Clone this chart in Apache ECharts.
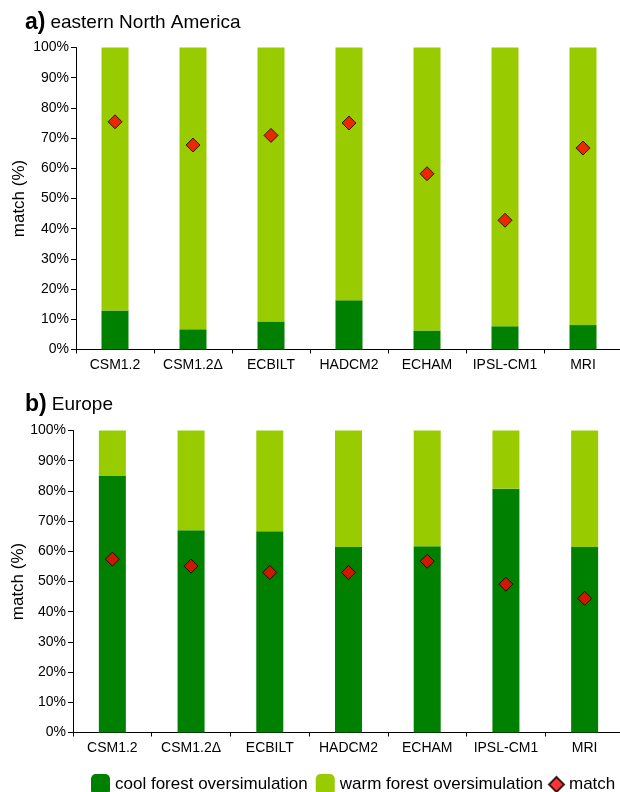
<!DOCTYPE html>
<html>
<head>
<meta charset="utf-8">
<script src="https://cdn.jsdelivr.net/npm/echarts@6/dist/echarts.min.js"></script>
<style>
  html, body { margin: 0; padding: 0; background: #fff; }
  #chart { width: 620px; height: 792px; }
</style>
</head>
<body>
<div id="chart"></div>
<script>
const categories = ['CSM1.2', 'CSM1.2\u0394', 'ECBILT', 'HADCM2', 'ECHAM', 'IPSL-CM1', 'MRI'];
const yTicks = [0, 10, 20, 30, 40, 50, 60, 70, 80, 90, 100];

// a) eastern North America
const coolNA  = [12.9, 6.7, 9.3, 16.3, 6.3, 7.7, 8.1];
const warmNA  = [87.1, 93.3, 90.7, 83.7, 93.7, 92.3, 91.9];
const matchNA = [75.4, 67.7, 70.9, 75.0, 58.2, 42.8, 66.7];

// b) Europe
const coolEU  = [84.9, 67.0, 66.6, 61.4, 61.7, 80.7, 61.4];
const warmEU  = [15.1, 33.0, 33.4, 38.6, 38.3, 19.3, 38.6];
const matchEU = [57.4, 55.1, 53.0, 53.0, 56.7, 49.1, 44.4];

const FONT = 'Liberation Sans, Arial, Helvetica, sans-serif';
const COOL = '#008000';
const WARM = '#99CC00';
const MATCH = '#FF0000';
const NAMES = ['cool forest oversimulation', 'warm forest oversimulation', 'match'];

const chart = echarts.init(document.getElementById('chart'), null, { renderer: 'canvas' });

function xAx(grid) {
  return {
    type: 'category', gridIndex: grid, data: categories,
    axisLine: { lineStyle: { color: '#000', width: 1 } },
    axisTick: { show: true, length: 4, inside: false, interval: 0, lineStyle: { color: '#000' } },
    axisLabel: { color: '#000', fontSize: 14, fontFamily: FONT, margin: 9, interval: 0 }
  };
}
function yAx(grid, gap) {
  return {
    type: 'value', gridIndex: grid, min: yTicks[0], max: yTicks[yTicks.length - 1], interval: 10,
    name: 'match (%)', nameLocation: 'middle', nameRotate: 90, nameGap: gap, nameMoveOverlap: false,
    nameTextStyle: { color: '#000', fontSize: 17, fontFamily: FONT },
    axisLine: { show: true, lineStyle: { color: '#000', width: 1 } },
    axisTick: { show: true, length: 5, lineStyle: { color: '#000' } },
    axisLabel: { color: '#000', fontSize: 14, fontFamily: FONT, margin: 7, formatter: '{value}%' },
    splitLine: { show: false }
  };
}
function barSeries(name, data, color, idx, stack) {
  return {
    name: name, type: 'bar', xAxisIndex: idx, yAxisIndex: idx, stack: stack,
    data: data, barWidth: 27, itemStyle: { color: color }, emphasis: { disabled: true },
    silent: true
  };
}
function matchSeries(data, idx) {
  return {
    name: NAMES[2], type: 'scatter', xAxisIndex: idx, yAxisIndex: idx,
    data: data, symbol: 'diamond', symbolSize: 14, z: 5,
    itemStyle: { color: MATCH, borderColor: '#000', borderWidth: 1 }, silent: true
  };
}
const richTitle = {
  b: { fontSize: 23, fontWeight: 'bold', color: '#000', fontFamily: FONT },
  n: { fontSize: 19, fontWeight: 'normal', color: '#000', fontFamily: FONT }
};

chart.setOption({
  animation: false,
  backgroundColor: '#fff',
  textStyle: { fontFamily: FONT },
  title: [
    { text: '{b|a)} {n|eastern North America}', left: 20, top: 6, textStyle: { fontWeight: 'normal', rich: richTitle } },
    { text: '{b|b)} {n|Europe}', left: 20, top: 388, textStyle: { fontWeight: 'normal', rich: richTitle } }
  ],
  legend: [
    {
      data: [NAMES[0], NAMES[1]], left: 86, top: 769, itemWidth: 19, itemHeight: 21, itemGap: 8,
      icon: 'roundRect', selectedMode: false,
      textStyle: { color: '#000', fontSize: 17, fontFamily: FONT }
    },
    {
      data: [{ name: NAMES[2], icon: 'diamond' }], left: 543, top: 771, itemWidth: 15, itemHeight: 15,
      selectedMode: false,
      textStyle: { color: '#000', fontSize: 17, fontFamily: FONT }
    }
  ],
  grid: [
    { left: 76, top: 47.5, width: 546, height: 302, containLabel: false, outerBoundsMode: 'none' },
    { left: 73, top: 430.5, width: 551, height: 302, containLabel: false, outerBoundsMode: 'none' }
  ],
  xAxis: [xAx(0), xAx(1)],
  yAxis: [yAx(0, 48), yAx(1, 46)],
  series: [
    barSeries(NAMES[0], coolNA, COOL, 0, 'na'),
    barSeries(NAMES[1], warmNA, WARM, 0, 'na'),
    matchSeries(matchNA, 0),
    barSeries(NAMES[0], coolEU, COOL, 1, 'eu'),
    barSeries(NAMES[1], warmEU, WARM, 1, 'eu'),
    matchSeries(matchEU, 1)
  ]
});
</script>
</body>
</html>
